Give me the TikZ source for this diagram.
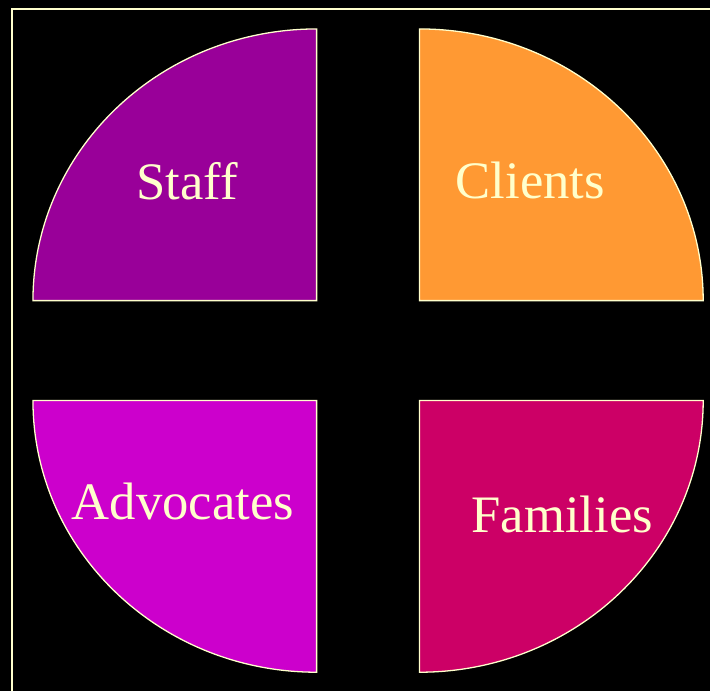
\documentclass[tikz,border=0pt]{standalone}
\usepackage{fontspec}
\setmainfont{Liberation Serif}
\usetikzlibrary{calc}
\definecolor{cream}{HTML}{FFFFCC}
\definecolor{plum}{HTML}{990099}
\definecolor{apricot}{HTML}{FF9933}
\definecolor{orchid}{HTML}{CC00CC}
\definecolor{berry}{HTML}{CC0066}
\newcommand{\rx}{284}
\newcommand{\ry}{272}
\newcommand{\mquad}[7]{
  \draw [fill=#4,draw=cream,line width=1.1pt] #1 -- ++({\rx*cos(#2)},{\ry*sin(#2)})
    arc [start angle=#2,end angle=#3,x radius=\rx,y radius=\ry] -- cycle;
  \node [anchor=base,text=cream,inner sep=0pt] at #5 (#7) {\fontsize{45}{0}\selectfont #6};
}

\begin{document}
\begin{tikzpicture}[x=0.03cm,y=0.03cm]
  \fill [black] (0,0) rectangle (711,692);
  \draw [cream,line width=1.4pt] (12,0) -- (12,683) -- (711,683);

  \mquad{(317,391)}{180}{90}{plum}{(187.5,492)}{Staff}{s}
  \mquad{(420,391)}{0}{90}{apricot}{(531,493)}{Clients}{c}
  \mquad{(317,291)}{180}{270}{orchid}{(183,172)}{Advocates}{a}
  \mquad{(420,291)}{0}{-90}{berry}{(563,159)}{Families}{f}
\end{tikzpicture}
\end{document}
